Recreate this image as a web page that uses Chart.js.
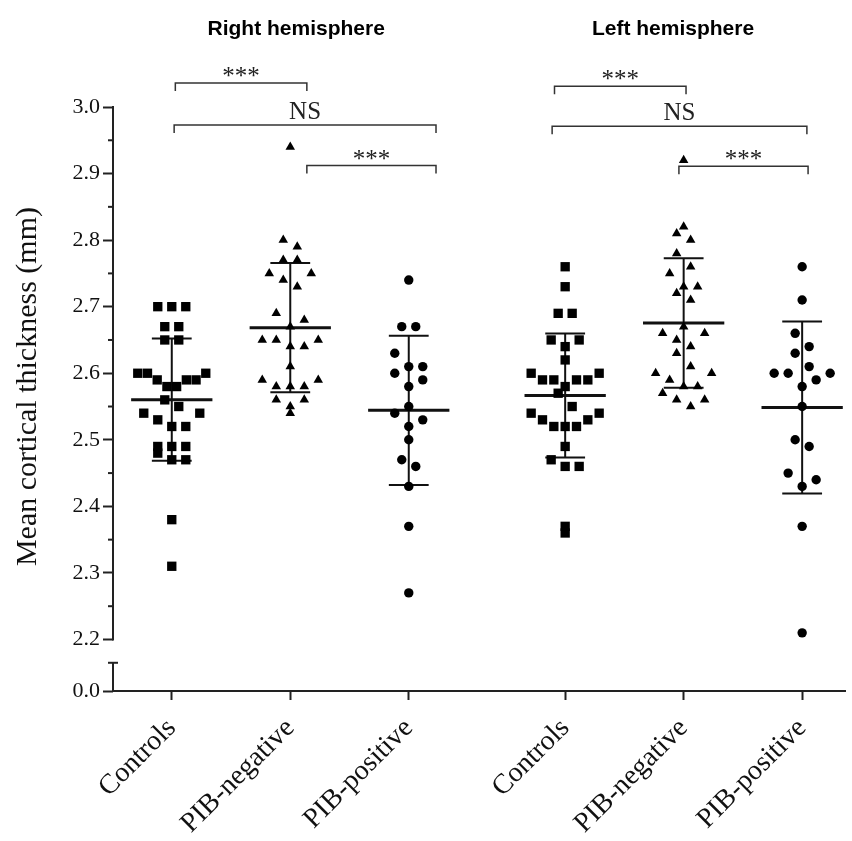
<!DOCTYPE html>
<html>
<head>
<meta charset="utf-8">
<script src="https://cdn.jsdelivr.net/npm/chart.js@4.4.1/dist/chart.umd.min.js"></script>
<style>
  html, body { margin: 0; padding: 0; background: #fff; }
  #wrap { width: 852px; height: 841px; }
</style>
</head>
<body>
<div id="wrap"><canvas id="thicknessChart"></canvas></div>
<script>
// ============================================================
// DATA
// ============================================================
const categories  = ['Controls', 'PIB-negative', 'PIB-positive', 'Controls', 'PIB-negative', 'PIB-positive'];
const categoryX   = [1, 2, 3, 4.32, 5.32, 6.32];
const hemispheres = ['Right hemisphere', 'Left hemisphere'];
const hemisphereX = [2.05, 5.23];

// mean cortical thickness (mm), one value per subject
const rightControls = [2.70, 2.70, 2.70, 2.67, 2.67, 2.65, 2.65, 2.60, 2.60, 2.60, 2.59, 2.59, 2.59,
                       2.58, 2.58, 2.56, 2.55, 2.54, 2.54, 2.53, 2.52, 2.52, 2.49, 2.49, 2.49, 2.48,
                       2.47, 2.47, 2.38, 2.31];
const rightPibNeg   = [2.94, 2.80, 2.79, 2.77, 2.77, 2.75, 2.75, 2.74, 2.73, 2.69, 2.68, 2.67, 2.65,
                       2.65, 2.65, 2.64, 2.64, 2.61, 2.59, 2.59, 2.58, 2.58, 2.58, 2.56, 2.56, 2.55, 2.54];
const rightPibPos   = [2.74, 2.67, 2.67, 2.63, 2.61, 2.61, 2.60, 2.59, 2.58, 2.55, 2.54, 2.53, 2.52,
                       2.50, 2.47, 2.46, 2.43, 2.37, 2.27];
const leftControls  = [2.76, 2.73, 2.69, 2.69, 2.65, 2.65, 2.64, 2.62, 2.60, 2.60, 2.59, 2.59, 2.59,
                       2.59, 2.58, 2.57, 2.55, 2.54, 2.54, 2.53, 2.53, 2.52, 2.52, 2.52, 2.49, 2.47,
                       2.46, 2.46, 2.37, 2.36];
const leftPibNeg    = [2.92, 2.82, 2.81, 2.80, 2.78, 2.76, 2.75, 2.73, 2.73, 2.72, 2.71, 2.67, 2.66,
                       2.66, 2.65, 2.64, 2.63, 2.61, 2.60, 2.60, 2.59, 2.58, 2.58, 2.57, 2.56, 2.56, 2.55];
const leftPibPos    = [2.76, 2.71, 2.66, 2.64, 2.63, 2.61, 2.60, 2.60, 2.60, 2.59, 2.58, 2.55, 2.50,
                       2.49, 2.45, 2.44, 2.43, 2.37, 2.21];

const groupValues = [rightControls, rightPibNeg, rightPibPos, leftControls, leftPibNeg, leftPibPos];
const groupSymbol = ['rect', 'triangle', 'circle', 'rect', 'triangle', 'circle'];

const yTicks      = [2.2, 2.3, 2.4, 2.5, 2.6, 2.7, 2.8, 2.9, 3.0];
const yBreakLabel = '0.0';

// significance brackets (x in axis units, y in mm)
const bracketFrom  = [1.03, 1.02, 2.14, 4.23, 4.21, 5.28];
const bracketTo    = [2.14, 3.23, 3.23, 5.34, 6.36, 6.37];
const bracketY     = [3.036, 2.973, 2.912, 3.031, 2.971, 2.911];
const bracketLabel = ['***', 'NS', '***', '***', 'NS', '***'];

// ============================================================
// STYLE
// ============================================================
const INK        = '#111';
const AXIS_COLOR = '#222';
const SERIF      = '"Liberation Serif", "Times New Roman", serif';
const SANS       = '"Liberation Sans", Arial, sans-serif';
const Y_MIN      = 2.1226;   // bottom of the broken axis, labelled 0.0
const Y_BREAK    = 2.165;    // top of the short stub below the break
const MEAN_HALF  = 0.343;
const CAP_HALF   = 0.168;
const SWARM_STEP = 14;       // px between neighbours in a row
const SWARM_SPAN = 68;       // px, widest row
const SWARM_BIN  = 0.03;     // mm per row

const SYMBOL = {
  rect:     { style: 'rect',     radius: 6.6 },
  triangle: { style: 'triangle', radius: 5.5 },
  circle:   { style: 'circle',   radius: 4.7 },
};

// ============================================================
// HELPERS
// ============================================================
function mean(a) { return a.reduce((s, v) => s + v, 0) / a.length; }
function sd(a) {
  const m = mean(a);
  return Math.sqrt(a.reduce((s, v) => s + (v - m) ** 2, 0) / (a.length - 1));
}

function segment(x1, y1, x2, y2, w) {
  return {
    type: 'line',
    data: [{ x: x1, y: y1 }, { x: x2, y: y2 }],
    borderColor: INK, borderWidth: w,
    pointRadius: 0, pointHoverRadius: 0,
    fill: false, tension: 0, clip: false,
  };
}

// Prism-like row layout: values binned into rows, spread symmetrically
function swarmOffsets(vals, unitPx) {
  const rows = new Map();
  vals.forEach(v => {
    const k = Math.floor((v - 0.025) / SWARM_BIN + 1e-6);
    if (!rows.has(k)) rows.set(k, []);
    rows.get(k).push(v);
  });
  const out = [];
  rows.forEach(row => {
    const n = row.length;
    const step = n > 1 ? Math.min(SWARM_STEP, SWARM_SPAN / (n - 1)) : 0;
    const slots = [];
    for (let i = 0; i < n; i++) slots.push((i - (n - 1) / 2) * step);
    slots.sort((a, b) => Math.abs(b) - Math.abs(a) || a - b);
    [...row].sort((a, b) => b - a).forEach((v, i) => out.push({ v, dx: slots[i] / unitPx }));
  });
  return out;
}

function strokeLine(ctx, x1, y1, x2, y2) {
  ctx.beginPath(); ctx.moveTo(x1, y1); ctx.lineTo(x2, y2); ctx.stroke();
}

// ============================================================
// DATASETS
// ============================================================
const datasets = [];
groupValues.forEach((vals, i) => {
  const x = categoryX[i];
  const m = mean(vals), s = sd(vals);
  const sym = SYMBOL[groupSymbol[i]];
  datasets.push({
    type: 'scatter',
    label: categories[i],
    data: vals.map(v => ({ x, y: v })),
    pointStyle: sym.style,
    pointRadius: sym.radius, pointHoverRadius: sym.radius,
    backgroundColor: '#000', borderColor: '#000', borderWidth: 0,
    clip: false,
  });
  datasets.push(segment(x - MEAN_HALF, m, x + MEAN_HALF, m, 3));
  datasets.push(segment(x, m - s, x, m + s, 2));
  datasets.push(segment(x - CAP_HALF, m + s, x + CAP_HALF, m + s, 2));
  datasets.push(segment(x - CAP_HALF, m - s, x + CAP_HALF, m - s, 2));
});

// ============================================================
// DECORATIONS (broken axis, brackets, titles)
// ============================================================
const decorations = {
  id: 'decorations',
  afterDraw(chart) {
    const { ctx, chartArea, scales: { x, y } } = chart;
    const ax = chartArea.left;
    ctx.save();
    ctx.strokeStyle = AXIS_COLOR;
    ctx.lineWidth = 2;

    // y axis, upper part
    strokeLine(ctx, ax, y.getPixelForValue(3.0) - 1, ax, y.getPixelForValue(2.2) + 1);
    // stub below the break
    const yb = y.getPixelForValue(Y_BREAK);
    strokeLine(ctx, ax, yb, ax, y.getPixelForValue(Y_MIN));
    strokeLine(ctx, ax - 5, yb, ax + 5, yb);
    // minor ticks
    for (let k = 0; k < yTicks.length - 1; k++) {
      const py = y.getPixelForValue((yTicks[k] + yTicks[k + 1]) / 2);
      strokeLine(ctx, ax - 5, py, ax, py);
    }

    // significance brackets
    ctx.strokeStyle = '#333';
    ctx.lineWidth = 1.5;
    ctx.fillStyle = '#222';
    ctx.font = '25px ' + SERIF;
    ctx.textAlign = 'center';
    ctx.textBaseline = 'alphabetic';
    bracketLabel.forEach((lab, i) => {
      const x1 = x.getPixelForValue(bracketFrom[i]);
      const x2 = x.getPixelForValue(bracketTo[i]);
      const by = y.getPixelForValue(bracketY[i]);
      ctx.beginPath();
      ctx.moveTo(x1, by + 8); ctx.lineTo(x1, by); ctx.lineTo(x2, by); ctx.lineTo(x2, by + 8);
      ctx.stroke();
      const m = ctx.measureText(lab);
      ctx.fillText(lab, (x1 + x2) / 2, by - 6 - m.actualBoundingBoxDescent);
    });

    // hemisphere titles
    ctx.fillStyle = '#000';
    ctx.font = 'bold 21px ' + SANS;
    ctx.textBaseline = 'middle';
    hemispheres.forEach((t, i) => ctx.fillText(t, x.getPixelForValue(hemisphereX[i]), 29));

    // y axis title
    ctx.fillStyle = INK;
    ctx.font = '30px ' + SERIF;
    ctx.translate(28, y.getPixelForValue(2.58));
    ctx.rotate(-Math.PI / 2);
    ctx.fillText('Mean cortical thickness (mm)', 0, 0);
    ctx.restore();
  }
};

// ============================================================
// CHART
// ============================================================
const chart = new Chart(document.getElementById('thicknessChart'), {
  type: 'scatter',
  data: { datasets },
  plugins: [decorations],
  options: {
    responsive: true,
    maintainAspectRatio: false,
    animation: false,
    layout: { padding: { top: 107, right: 4, left: 15, bottom: 0 } },
    plugins: { legend: { display: false }, tooltip: { enabled: false } },
    scales: {
      x: {
        type: 'linear',
        min: 0.504, max: 6.685,
        afterBuildTicks: s => { s.ticks = categoryX.map(v => ({ value: v })); },
        afterFit: s => { s.height = 150; },
        grid: { drawOnChartArea: false, drawTicks: true, tickLength: 9, tickWidth: 2, tickColor: AXIS_COLOR },
        border: { display: true, color: AXIS_COLOR, width: 2 },
        ticks: {
          autoSkip: false, maxRotation: 45, minRotation: 45, padding: 12,
          color: INK, font: { family: SERIF, size: 28 },
          callback: (v, i) => categories[i],
        },
      },
      y: {
        type: 'linear',
        min: Y_MIN, max: 3.0,
        afterBuildTicks: s => { s.ticks = [Y_MIN, ...yTicks].map(v => ({ value: v })); },
        afterFit: s => { s.width = 98; },
        grid: { drawOnChartArea: false, drawTicks: true, tickLength: 10, tickWidth: 2, tickColor: AXIS_COLOR },
        border: { display: false },
        ticks: {
          padding: 3, color: INK, font: { family: SERIF, size: 22 },
          callback: v => v < 2.19 ? yBreakLabel : v.toFixed(1),
        },
      },
    },
  },
});

// spread points once the scales exist
(function applySwarm() {
  const xs = chart.scales.x;
  const unitPx = xs.getPixelForValue(1) - xs.getPixelForValue(0);
  let g = 0;
  chart.data.datasets.forEach(ds => {
    if (ds.type !== 'scatter') return;
    const x = categoryX[g];
    ds.data = swarmOffsets(groupValues[g], unitPx).map(p => ({ x: x + p.dx, y: p.v }));
    g++;
  });
  chart.update('none');
})();
</script>
</body>
</html>
